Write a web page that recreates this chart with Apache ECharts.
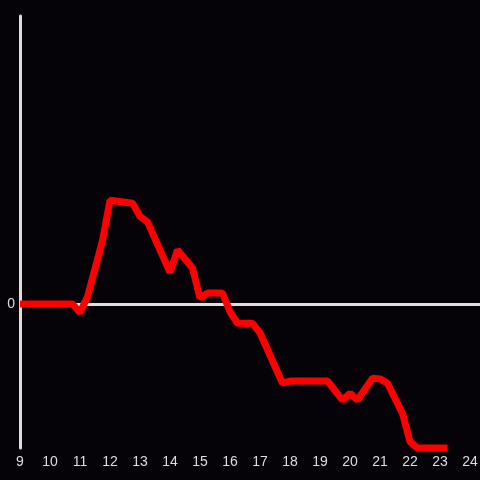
<!DOCTYPE html>
<html>
<head>
<meta charset="utf-8">
<script src="https://cdn.jsdelivr.net/npm/echarts@6/dist/echarts.min.js"></script>
<style>
html, body { margin: 0; padding: 0; background: #050307; }
#chart { width: 480px; height: 480px; }
</style>
</head>
<body>
<div id="chart"></div>
<script>
// hours of day and values
const hours = [9, 10.75, 11, 11.25, 11.75, 12, 12.75, 13, 13.25, 14, 14.25, 14.75, 15, 15.25, 15.75,
    16, 16.25, 16.75, 17, 17.75, 18, 19.25, 19.75, 20, 20.25, 20.75, 21, 21.25, 21.75, 22, 22.25, 23.25]
const values = [0, 0, -0.06, 0.05, 0.44, 0.72, 0.70, 0.61, 0.57, 0.22, 0.375, 0.25, 0.04, 0.076, 0.076,
    -0.054, -0.134, -0.134, -0.2, -0.55, -0.535, -0.535, -0.667, -0.62, -0.667, -0.516, -0.52, -0.55, -0.76, -0.956, -1.0, -1.0]
const xTicks = [9, 10, 11, 12, 13, 14, 15, 16, 17, 18, 19, 20, 21, 22, 23, 24]

const points = hours.map((h, i) => [h, values[i]])
const axisColor = '#dedede'

const chart = echarts.init(document.getElementById('chart'))
chart.setOption({
    backgroundColor: '#050307',
    animation: false,
    grid: { left: 20, right: 0, top: 16, bottom: 32, outerBoundsMode: 'none', containLabel: false },
    xAxis: {
        type: 'value',
        min: 9,
        max: 9 + 460 / 30,
        interval: 1,
        axisLine: { show: false, onZero: false },
        axisTick: { show: false },
        splitLine: { show: false },
        axisLabel: {
            color: axisColor,
            fontSize: 14,
            margin: 7,
            formatter: v => xTicks.indexOf(v) >= 0 ? String(v) : ''
        }
    },
    yAxis: {
        type: 'value',
        min: -1,
        max: 2,
        interval: 1,
        axisLine: { show: true, onZero: false, lineStyle: { color: axisColor, width: 3 } },
        axisTick: { show: false },
        splitLine: { show: false },
        axisLabel: {
            color: axisColor,
            fontSize: 14,
            margin: 5,
            formatter: v => v === 0 ? '0' : ''
        }
    },
    series: [{
        type: 'line',
        data: points,
        symbol: 'none',
        lineStyle: { color: '#ff0000', width: 7 },
        z: 3,
        markLine: {
            silent: true,
            symbol: 'none',
            label: { show: false },
            lineStyle: { color: axisColor, width: 3, type: 'solid' },
            data: [{ yAxis: 0 }],
            z: 2
        }
    }]
})
</script>
</body>
</html>
